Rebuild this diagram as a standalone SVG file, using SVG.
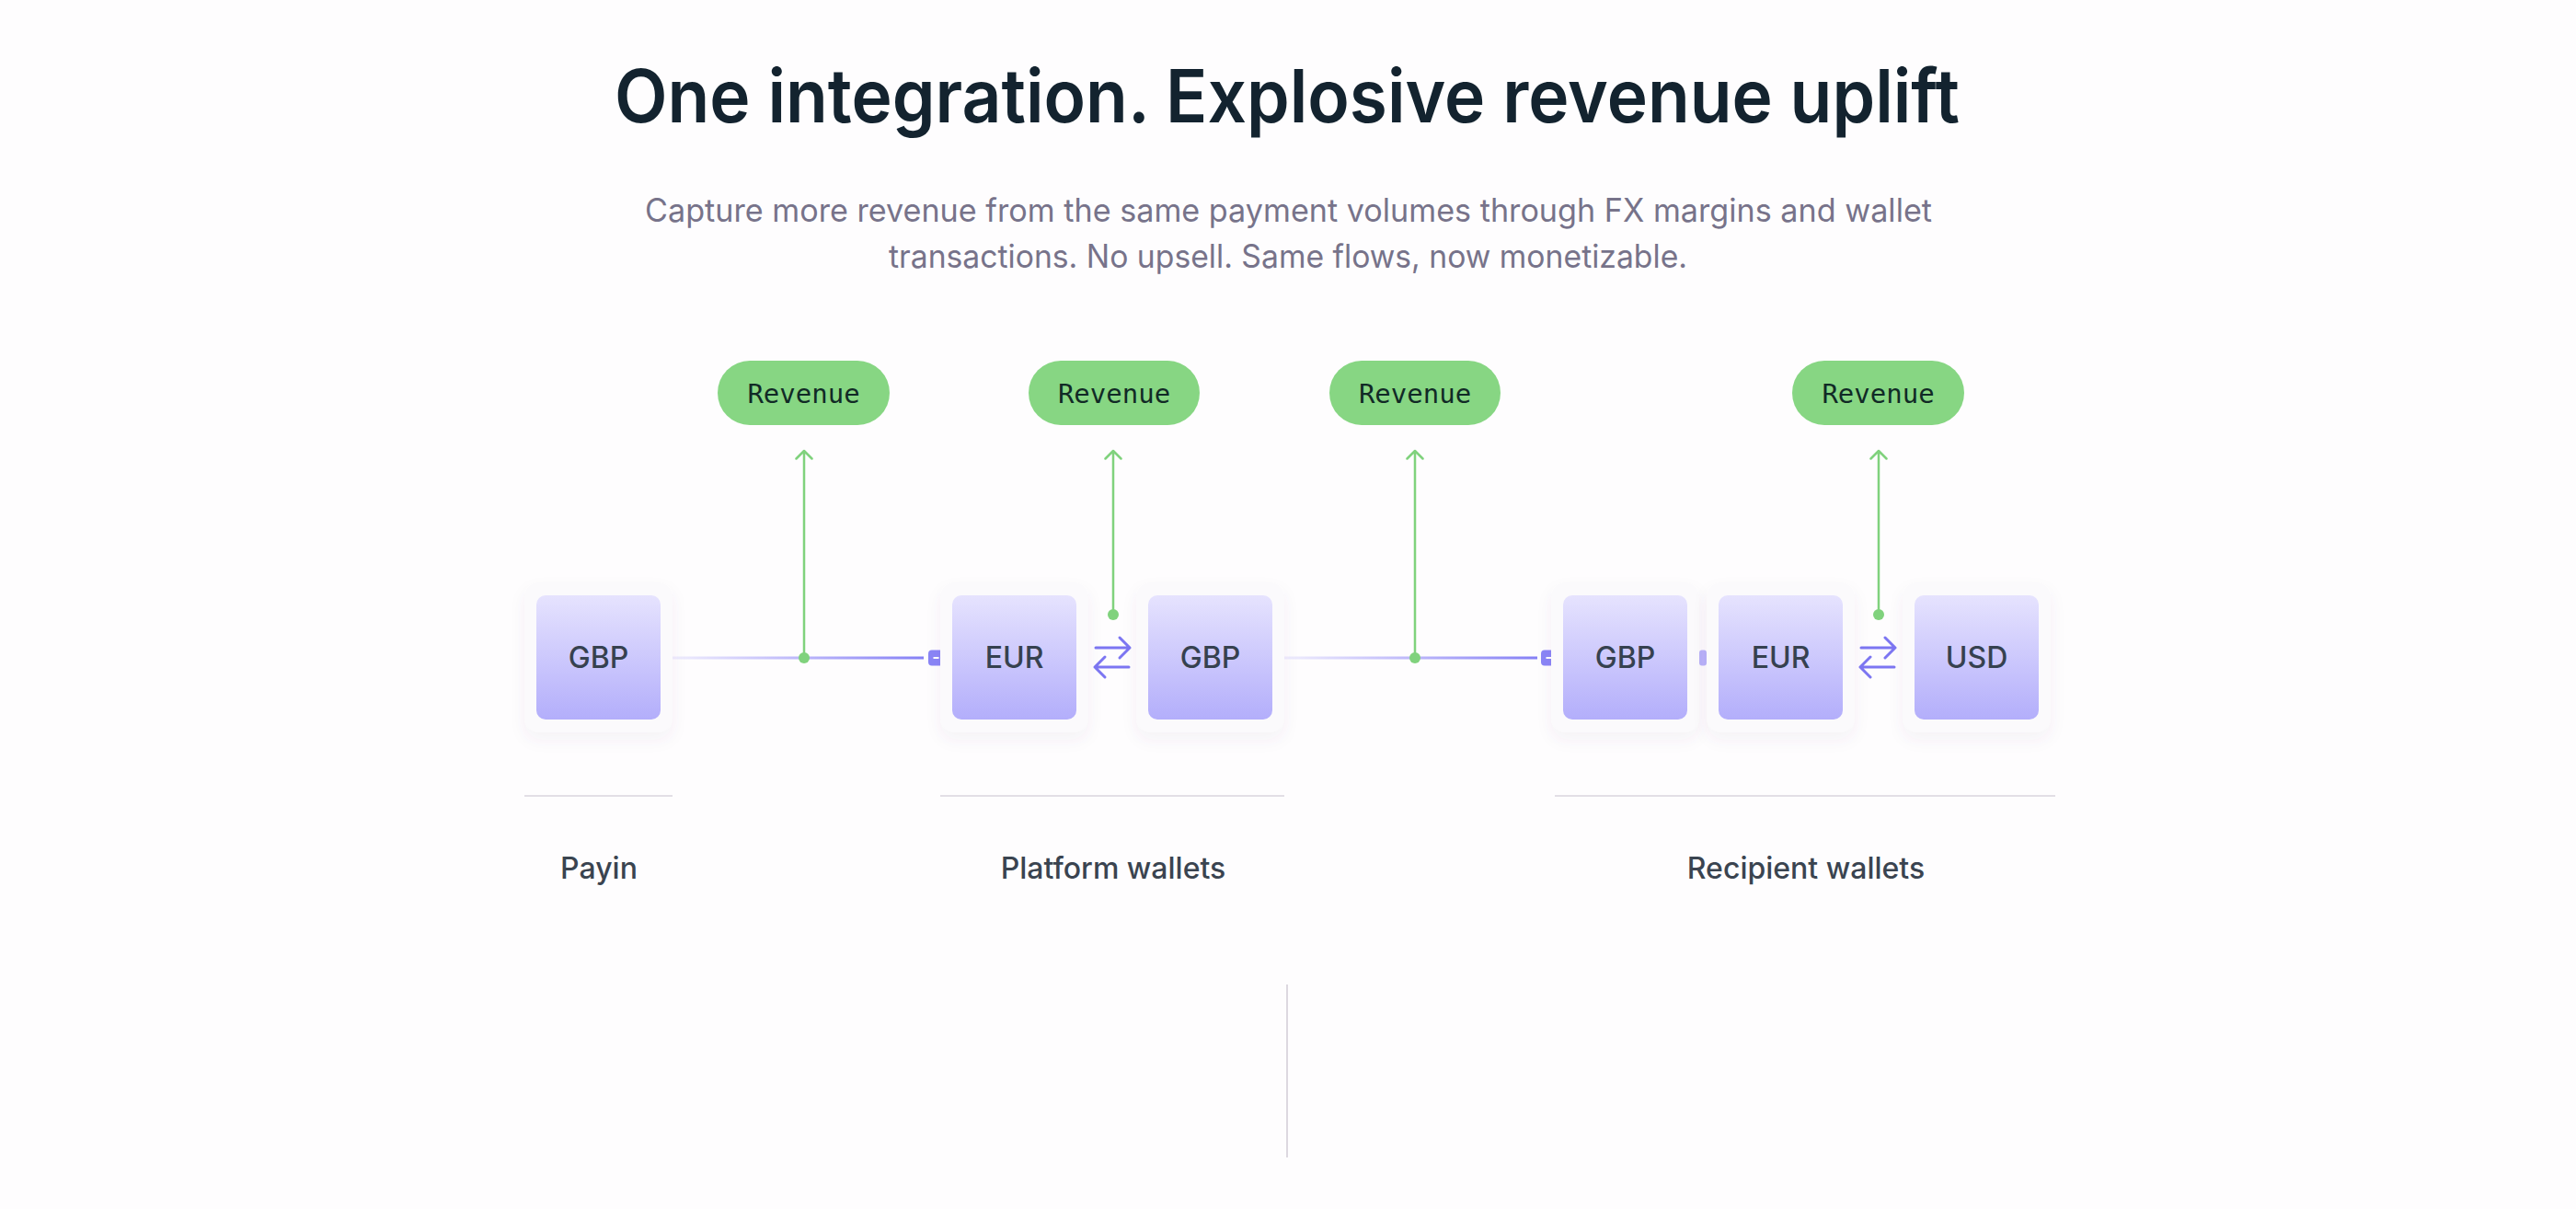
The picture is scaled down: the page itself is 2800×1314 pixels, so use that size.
<svg xmlns="http://www.w3.org/2000/svg" width="2800" height="1314" viewBox="0 0 2800 1314">
  <defs>
    <style>
      .title { font-family: Inter, "Liberation Sans", sans-serif; font-size: 80px; font-weight: 600; fill: #13232f; }
      .sub { font-family: Inter, "Liberation Sans", sans-serif; font-size: 35px; font-weight: 400; fill: #77738a; }
      .card { fill: #fbfafc; filter: url(#cardShadow); }
      .box { fill: url(#boxGrad); }
      .boxlabel { font-family: Inter, "Liberation Sans", sans-serif; font-size: 32px; font-weight: 500; fill: #36414f; text-anchor: middle; }
      .section { font-family: Inter, "Liberation Sans", sans-serif; font-size: 32px; font-weight: 500; fill: #3a4450; text-anchor: middle; }
      .pill { fill: #87d683; }
      .pilltext { font-family: "DejaVu Sans Mono", "Liberation Mono", monospace; font-size: 29px; font-weight: 500; fill: #112a26; text-anchor: middle; }
      .green { stroke: #80d27d; stroke-width: 2.5; fill: none; stroke-linecap: round; stroke-linejoin: round; }
      .dot { fill: #80d27d; }
      .fx { stroke: #7c76f2; stroke-width: 3; fill: none; stroke-linecap: round; stroke-linejoin: round; }
      .divider { stroke: #e3dfe6; stroke-width: 2; }
    </style>
    <linearGradient id="boxGrad" x1="0" y1="0" x2="0" y2="1">
      <stop offset="0" stop-color="#e6e3fe"/>
      <stop offset="1" stop-color="#b3aefb"/>
    </linearGradient>
    <linearGradient id="lineGrad" x1="0" y1="0" x2="1" y2="0">
      <stop offset="0" stop-color="#efedfd"/>
      <stop offset="0.5" stop-color="#bdb8fa"/>
      <stop offset="1" stop-color="#8580f5"/>
    </linearGradient>
    <filter id="cardShadow" x="-20%" y="-20%" width="140%" height="150%">
      <feDropShadow dx="0" dy="8" stdDeviation="8" flood-color="#5a4a7a" flood-opacity="0.06"/>
    </filter>
  </defs>

  <rect x="0" y="0" width="2800" height="1314" fill="#fefdfe"/>

  <g id="header">
    <text class="title" x="668" y="133" textLength="1462" lengthAdjust="spacingAndGlyphs">One integration. Explosive revenue uplift</text>
    <text class="sub" x="701" y="241" textLength="1399" lengthAdjust="spacingAndGlyphs">Capture more revenue from the same payment volumes through FX margins and wallet</text>
    <text class="sub" x="966" y="291" textLength="868" lengthAdjust="spacingAndGlyphs">transactions. No upsell. Same flows, now monetizable.</text>
  </g>

  <g id="connectors">
    <rect x="731" y="713.5" width="273" height="3" fill="url(#lineGrad)"/>
    <rect x="1396" y="713.5" width="275" height="3" fill="url(#lineGrad)"/>
    <rect x="1009" y="706.5" width="17" height="17" rx="4" fill="#8a85f6"/>
    <rect x="1014.5" y="714" width="6" height="2" fill="#ffffff"/>
    <rect x="1675" y="706.5" width="17" height="17" rx="4" fill="#8a85f6"/>
    <rect x="1680.5" y="714" width="6" height="2" fill="#ffffff"/>
    <rect x="1847" y="706.5" width="8" height="17" rx="3" fill="#b9b4fa"/>

    <path class="green" d="M874 715 V490 M865.5 498.5 L874 490 L882.5 498.5"/>
    <circle class="dot" cx="874" cy="715" r="6"/>
    <path class="green" d="M1210 668 V490 M1201.5 498.5 L1210 490 L1218.5 498.5"/>
    <circle class="dot" cx="1210" cy="668" r="6"/>
    <path class="green" d="M1538 715 V490 M1529.5 498.5 L1538 490 L1546.5 498.5"/>
    <circle class="dot" cx="1538" cy="715" r="6"/>
    <path class="green" d="M2042 668 V490 M2033.5 498.5 L2042 490 L2050.5 498.5"/>
    <circle class="dot" cx="2042" cy="668" r="6"/>

    <path class="fx" d="M1191 704 H1228 M1217 693 L1228 704 L1217 715 M1227 725 H1190 M1201 714 L1190 725 L1201 736"/>
    <path class="fx" d="M2023 704 H2060 M2049 693 L2060 704 L2049 715 M2059 725 H2022 M2033 714 L2022 725 L2033 736"/>

    <line class="divider" x1="570" y1="865" x2="731" y2="865"/>
    <line class="divider" x1="1022" y1="865" x2="1396" y2="865"/>
    <line class="divider" x1="1690" y1="865" x2="2234" y2="865"/>
    <line x1="1399" y1="1070" x2="1399" y2="1258" stroke="#ddd8e0" stroke-width="2"/>
  </g>

  <g id="rev1"><rect class="pill" x="780" y="392" width="187" height="70" rx="35"/><text class="pilltext" x="873.5" y="438">Revenue</text></g>
  <g id="rev2"><rect class="pill" x="1118" y="392" width="186" height="70" rx="35"/><text class="pilltext" x="1211" y="438">Revenue</text></g>
  <g id="rev3"><rect class="pill" x="1445" y="392" width="186" height="70" rx="35"/><text class="pilltext" x="1538" y="438">Revenue</text></g>
  <g id="rev4"><rect class="pill" x="1948" y="392" width="187" height="70" rx="35"/><text class="pilltext" x="2041.5" y="438">Revenue</text></g>

  <g id="payin-gbp"><rect class="card" x="570" y="633" width="161" height="163" rx="16"/><rect class="box" x="583" y="647" width="135" height="135" rx="10"/><text class="boxlabel" x="650.5" y="726">GBP</text></g>
  <g id="platform-eur"><rect class="card" x="1022" y="633" width="161" height="163" rx="16"/><rect class="box" x="1035" y="647" width="135" height="135" rx="10"/><text class="boxlabel" x="1102.5" y="726">EUR</text></g>
  <g id="platform-gbp"><rect class="card" x="1235" y="633" width="161" height="163" rx="16"/><rect class="box" x="1248" y="647" width="135" height="135" rx="10"/><text class="boxlabel" x="1315.5" y="726">GBP</text></g>
  <g id="recipient-gbp"><rect class="card" x="1686" y="633" width="161" height="163" rx="16"/><rect class="box" x="1699" y="647" width="135" height="135" rx="10"/><text class="boxlabel" x="1766.5" y="726">GBP</text></g>
  <g id="recipient-eur"><rect class="card" x="1855" y="633" width="161" height="163" rx="16"/><rect class="box" x="1868" y="647" width="135" height="135" rx="10"/><text class="boxlabel" x="1935.5" y="726">EUR</text></g>
  <g id="recipient-usd"><rect class="card" x="2068" y="633" width="161" height="163" rx="16"/><rect class="box" x="2081" y="647" width="135" height="135" rx="10"/><text class="boxlabel" x="2148.5" y="726">USD</text></g>

  <g id="labels">
    <text class="section" x="651" y="955">Payin</text>
    <text class="section" x="1210" y="955">Platform wallets</text>
    <text class="section" x="1963" y="955">Recipient wallets</text>
  </g>
</svg>
